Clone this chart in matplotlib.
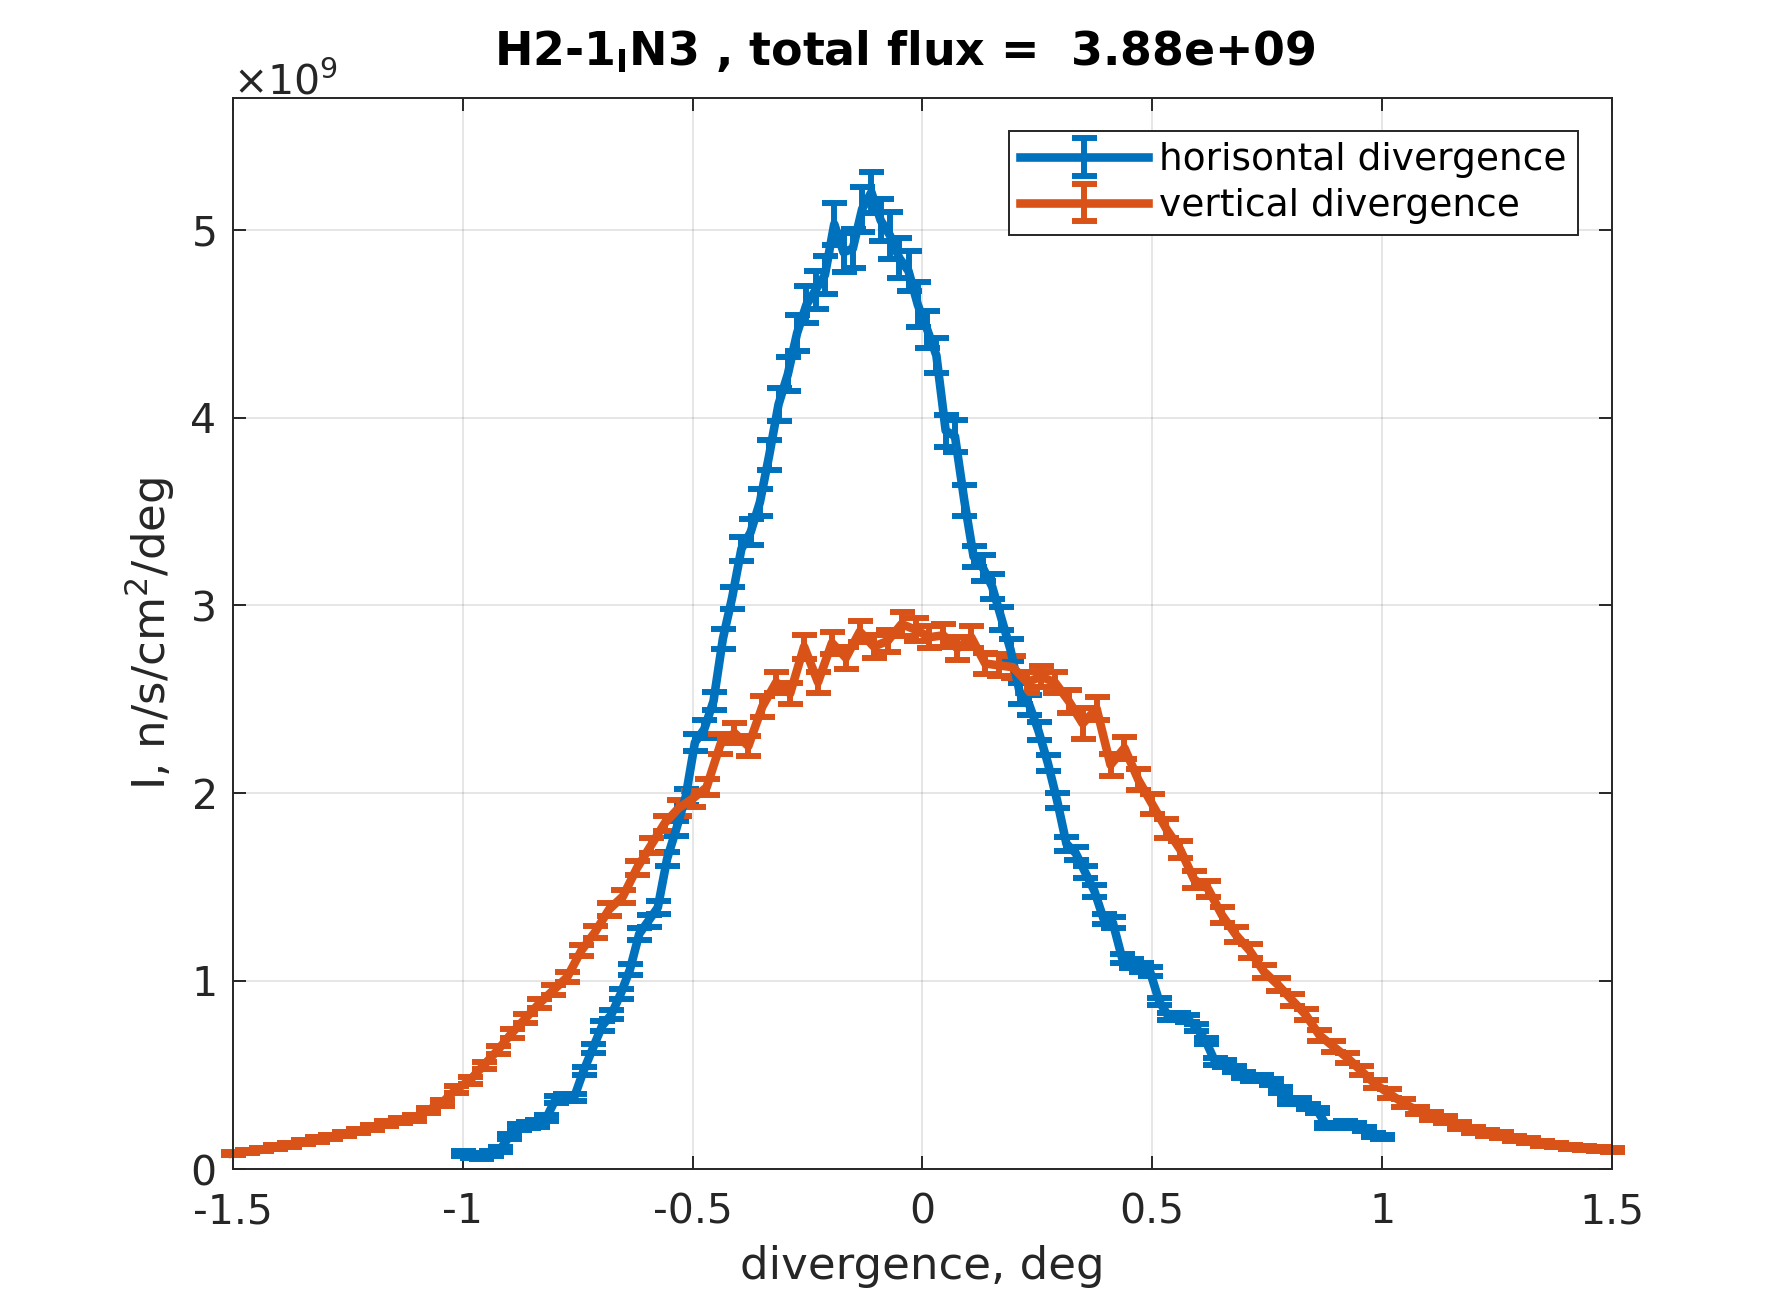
import matplotlib

matplotlib.use("Agg")
import matplotlib.pyplot as plt
import numpy as np

# Divergence profiles, values in units of 1e9 n/s/cm2/deg
div_h = np.linspace(-1.0, 1.0, 100)
div_v = np.linspace(-1.5, 1.5, 100)

flux_h = [
    0.08, 0.07, 0.06, 0.08, 0.10, 0.17, 0.22, 0.23, 0.24, 0.27,
    0.37, 0.38, 0.38, 0.52, 0.64, 0.76, 0.82, 0.93, 1.06, 1.25,
    1.32, 1.39, 1.65, 1.81, 1.98, 2.27, 2.34, 2.49, 2.82, 3.04,
    3.30, 3.39, 3.55, 3.80, 4.07, 4.23, 4.45, 4.60, 4.68, 4.76,
    5.03, 4.88, 4.90, 5.11, 5.20, 5.05, 4.97, 4.85, 4.78, 4.60,
    4.47, 4.33, 3.93, 3.90, 3.56, 3.26, 3.20, 3.10, 2.93, 2.76,
    2.53, 2.47, 2.33, 2.16, 1.96, 1.73, 1.68, 1.58, 1.48, 1.33,
    1.31, 1.12, 1.09, 1.07, 1.05, 0.89, 0.81, 0.81, 0.80, 0.75,
    0.68, 0.57, 0.56, 0.53, 0.50, 0.48, 0.48, 0.46, 0.42, 0.36,
    0.36, 0.33, 0.31, 0.23, 0.23, 0.24, 0.23, 0.21, 0.18, 0.17,
]
err_h = [
    0.012, 0.012, 0.011, 0.012, 0.013, 0.015, 0.016, 0.016, 0.017, 0.017,
    0.019, 0.019, 0.019, 0.021, 0.023, 0.025, 0.026, 0.027, 0.029, 0.032,
    0.033, 0.034, 0.037, 0.040, 0.043, 0.047, 0.048, 0.046, 0.055, 0.058,
    0.066, 0.068, 0.072, 0.080, 0.088, 0.090, 0.095, 0.098, 0.100, 0.102,
    0.110, 0.105, 0.106, 0.120, 0.110, 0.112, 0.127, 0.108, 0.106, 0.120,
    0.098, 0.095, 0.085, 0.085, 0.082, 0.054, 0.070, 0.068, 0.062, 0.058,
    0.054, 0.052, 0.048, 0.045, 0.040, 0.036, 0.035, 0.033, 0.031, 0.028,
    0.028, 0.025, 0.024, 0.024, 0.024, 0.021, 0.020, 0.020, 0.020, 0.019,
    0.018, 0.017, 0.017, 0.016, 0.016, 0.016, 0.016, 0.015, 0.015, 0.014,
    0.014, 0.013, 0.013, 0.012, 0.012, 0.012, 0.012, 0.011, 0.011, 0.010,
]

flux_v = [
    0.08, 0.09, 0.10, 0.115, 0.125, 0.14, 0.155, 0.17, 0.185, 0.20,
    0.22, 0.24, 0.255, 0.27, 0.31, 0.35, 0.42, 0.47,
    0.55, 0.63, 0.72, 0.80, 0.88, 0.95, 1.02, 1.16, 1.26, 1.38,
    1.45, 1.60, 1.72, 1.84, 1.92, 1.97,
    2.03, 2.26, 2.32, 2.25, 2.46, 2.59, 2.53, 2.78, 2.59, 2.80,
    2.72, 2.86, 2.78, 2.81, 2.90, 2.87,
    2.83, 2.84, 2.77, 2.83, 2.69, 2.68, 2.67, 2.59, 2.62, 2.59,
    2.49, 2.37, 2.45, 2.15, 2.24, 2.07,
    1.94, 1.81, 1.70, 1.54, 1.49, 1.35, 1.245, 1.16, 1.05, 0.98,
    0.90, 0.82, 0.71, 0.65, 0.59, 0.52, 0.45, 0.40,
    0.35, 0.31, 0.28, 0.26, 0.23, 0.205, 0.19, 0.18, 0.16, 0.15,
    0.135, 0.125, 0.115, 0.11, 0.105, 0.10,
]
err_v = [
    0.008, 0.008, 0.009, 0.009, 0.010, 0.010, 0.011, 0.011, 0.012, 0.012,
    0.013, 0.013, 0.014, 0.014, 0.015, 0.016, 0.018, 0.019,
    0.020, 0.021, 0.022, 0.023, 0.025, 0.026, 0.027, 0.029, 0.031, 0.033,
    0.034, 0.036, 0.038, 0.040, 0.041, 0.042,
    0.043, 0.052, 0.052, 0.052, 0.055, 0.057, 0.056, 0.064, 0.057, 0.060,
    0.058, 0.058, 0.060, 0.060, 0.064, 0.062,
    0.060, 0.060, 0.060, 0.060, 0.058, 0.058, 0.058, 0.057, 0.057, 0.057,
    0.061, 0.084, 0.061, 0.059, 0.061, 0.056,
    0.054, 0.050, 0.047, 0.045, 0.044, 0.041, 0.039, 0.037, 0.035, 0.034,
    0.032, 0.030, 0.028, 0.027, 0.026, 0.024, 0.023, 0.022,
    0.021, 0.020, 0.019, 0.018, 0.017, 0.016, 0.015, 0.015, 0.014, 0.013,
    0.013, 0.012, 0.012, 0.011, 0.011, 0.010,
]

scale = 1e9
title_text = r"H2-1$_\mathbf{I}$N3 , total flux =  3.88e+09"
series_labels = ["horisontal divergence", "vertical divergence"]
x_ticks = [-1.5, -1, -0.5, 0, 0.5, 1, 1.5]
x_tick_labels = ["-1.5", "-1", "-0.5", "0", "0.5", "1", "1.5"]
y_ticks = [0, 1e9, 2e9, 3e9, 4e9, 5e9]

plt.rcParams["font.family"] = ["DejaVu Sans"]
plt.rcParams["mathtext.fontset"] = "dejavusans"
plt.rcParams["axes.unicode_minus"] = False

axis_color = "#262626"

fig = plt.figure(figsize=(17.81, 13.13), dpi=100)
ax = fig.add_axes([0.1308, 0.1100, 0.7743, 0.8151])

# Plot both profiles
for x, y, e, col, lab in [
    (div_h, flux_h, err_h, "#0072BD", series_labels[0]),
    (div_v, flux_v, err_v, "#D95319", series_labels[1]),
]:
    cont = ax.errorbar(
        x,
        np.array(y) * scale,
        yerr=np.array(e) * scale,
        color=col,
        lw=6.2,
        elinewidth=4.3,
        capsize=9,
        capthick=4.3,
        label=lab,
    )
    cont[0].set_clip_on(False)
    for art in cont[1]:
        art.set_clip_on(False)
    for art in cont[2]:
        art.set_clip_on(False)

ax.set_xlim(-1.5, 1.5)
ax.set_ylim(0, 5.7e9)
ax.set_xticks(x_ticks, labels=x_tick_labels)
ax.set_yticks(y_ticks)
ax.ticklabel_format(axis="y", style="sci", scilimits=(9, 9), useMathText=True)
ax.yaxis.get_offset_text().set_fontsize(29.5)
ax.yaxis.get_offset_text().set_color(axis_color)

ax.grid(True, color=axis_color, alpha=0.15, lw=1.1)
ax.set_axisbelow(True)
for sp in ax.spines.values():
    sp.set_color(axis_color)
    sp.set_linewidth(1.4)
ax.tick_params(direction="in", length=9.6, width=1.4, top=True, right=True,
               labelsize=29.5, colors=axis_color)
ax.tick_params(axis="x", pad=17)
ax.tick_params(axis="y", pad=13)

ax.set_xlabel("divergence, deg", fontsize=32.5, color=axis_color, labelpad=9)
ax.set_ylabel(r"I, n/s/cm$^2$/deg", fontsize=32.5, color=axis_color, labelpad=9)
ax.set_title(title_text, fontsize=33, fontweight="bold", pad=24, x=0.487, y=1.0)

leg = ax.legend(loc="upper right", bbox_to_anchor=(0.975, 0.9694), borderaxespad=0,
                fontsize=27, fancybox=False, edgecolor=axis_color, framealpha=1,
                handlelength=3.4, handletextpad=0.3, borderpad=0.3, labelspacing=0.25)
leg.get_frame().set_linewidth(1.4)

fig.savefig("out.png", dpi=100)
